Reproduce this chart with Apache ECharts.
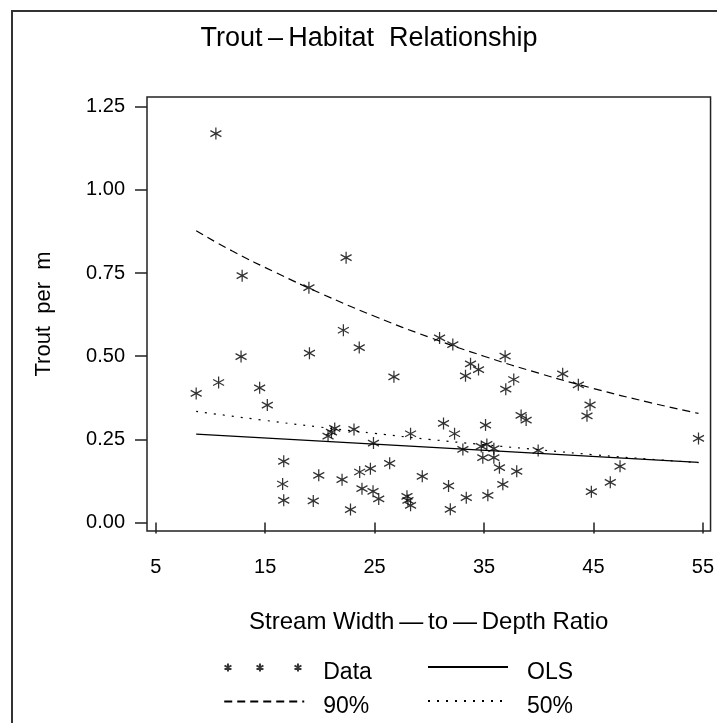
<!DOCTYPE html>
<html>
<head>
<meta charset="utf-8">
<script src="https://cdn.jsdelivr.net/npm/echarts@6/dist/echarts.min.js"></script>
<style>
  html, body { margin: 0; padding: 0; background: #fff; }
  #chart { width: 717px; height: 723px; }
</style>
</head>
<body>
<div id="chart"></div>
<script>
// Observed stream width-to-depth ratios and trout densities (trout per metre)
const widthRatio = [
  8.7, 10.5, 10.75, 12.8, 12.9, 14.5, 15.2, 16.7, 16.6, 16.7,
  19.0, 19.05, 19.9, 19.4, 20.75, 21.06, 21.36, 22.15, 22.4, 22.03,
  22.8, 23.12, 23.6, 23.64, 23.85, 24.62, 24.9, 24.86, 25.38, 26.38,
  26.77, 27.96, 28.05, 28.29, 28.29, 29.36, 30.94, 31.3, 31.76, 31.92,
  32.15, 32.31, 33.07, 33.31, 33.38, 33.77, 34.5, 34.75, 34.89, 35.14,
  35.26, 35.35, 35.9, 35.9, 36.41, 36.72, 36.93, 36.99, 37.72, 37.99,
  38.39, 38.85, 39.95, 42.19, 43.62, 44.41, 44.69, 44.81, 46.54, 47.43,
  54.6
];
const troutPerM = [
  0.388, 1.169, 0.421, 0.499, 0.742, 0.405, 0.353, 0.184, 0.116, 0.067,
  0.706, 0.509, 0.142, 0.065, 0.260, 0.272, 0.283, 0.578, 0.796, 0.129,
  0.039, 0.280, 0.526, 0.152, 0.102, 0.162, 0.239, 0.094, 0.071, 0.178,
  0.438, 0.079, 0.067, 0.052, 0.267, 0.139, 0.555, 0.298, 0.110, 0.040,
  0.535, 0.267, 0.220, 0.441, 0.075, 0.477, 0.460, 0.229, 0.195, 0.293,
  0.235, 0.082, 0.222, 0.195, 0.165, 0.115, 0.500, 0.401, 0.430, 0.154,
  0.322, 0.308, 0.217, 0.447, 0.414, 0.321, 0.354, 0.093, 0.121, 0.169,
  0.253
];

// Fitted curves: ordinary least squares, 90th and 50th quantile regressions
const olsX = [8.7, 25, 40, 54.6];
const olsY = [0.266, 0.236, 0.208, 0.181];
const q90X = [8.7, 12, 16, 20, 25, 30, 35, 40, 45, 50, 54.6];
const q90Y = [0.877, 0.816, 0.751, 0.690, 0.620, 0.557, 0.500, 0.449, 0.403, 0.362, 0.328];
const q50X = [8.7, 15, 20, 25, 30, 35, 40, 45, 50, 54.6];
const q50Y = [0.334, 0.307, 0.287, 0.268, 0.250, 0.234, 0.219, 0.204, 0.191, 0.180];

// Axis ticks
const xTicks = [5, 15, 25, 35, 45, 55];
const yTicks = [0, 0.25, 0.5, 0.75, 1.0, 1.25];

const zip = (xs, ys) => xs.map((x, i) => [x, ys[i]]);

const FONT = '"Liberation Sans", Arial, Helvetica, sans-serif';
const INK = '#000';

// Six-armed star marker drawn as strokes
const starPath = 'path://M5,0L5,10M0.67,2.5L9.33,7.5M0.67,7.5L9.33,2.5';
// Three stars in a row for the legend key
const starsKey = 'path://' + [4, 36, 74].map(c =>
  `M${c},0L${c},8M${c - 3.46},2L${c + 3.46},6M${c - 3.46},6L${c + 3.46},2`).join('') +
  'M80,4L80,4.01';

const chart = echarts.init(document.getElementById('chart'), null, { renderer: 'canvas' });

// Legend labels sit a little below their keys
const legendText = {
  fontFamily: FONT, fontSize: 23, color: INK,
  rich: { t: { fontFamily: FONT, fontSize: 23, color: INK, padding: [11, 0, 0, 14] } }
};
const hideDot = { opacity: 0 };

chart.setOption({
  animation: false,
  backgroundColor: '#fff',
  textStyle: { fontFamily: FONT },
  title: {
    text: 'Trout\u2009\u2013\u2009Habitat  Relationship',
    left: 364, top: 20, textAlign: 'center',
    textStyle: { fontFamily: FONT, fontSize: 27, fontWeight: 'normal', color: INK }
  },
  graphic: [{
    type: 'polyline',
    shape: { points: [[12, 723], [12, 11], [717, 11]] },
    style: { stroke: '#333', lineWidth: 2, fill: null },
    silent: true
  }],
  grid: {
    left: 147, top: 97, width: 564, height: 434,
    show: true, borderColor: '#222', borderWidth: 1.5, backgroundColor: 'transparent'
  },
  legend: [{
    orient: 'vertical', left: 222, top: 661, padding: 0,
    itemWidth: 80, itemHeight: 8, itemGap: 11,
    formatter: '{t|{name}}',
    data: [{ name: 'Data', icon: starsKey }, { name: '90%', itemStyle: hideDot }],
    textStyle: legendText
  }, {
    orient: 'vertical', left: 427, top: 661, padding: 0,
    itemWidth: 80, itemHeight: 8, itemGap: 11,
    formatter: '{t|{name}}',
    data: [{ name: 'OLS', itemStyle: hideDot }, { name: '50%', itemStyle: hideDot }],
    textStyle: legendText
  }],
  xAxis: {
    type: 'value', min: 4.206, max: 55.70,
    name: 'Stream Width\u2009\u2014\u2009to\u2009\u2014\u2009Depth Ratio',
    nameLocation: 'middle', nameGap: 79,
    nameTextStyle: { fontFamily: FONT, fontSize: 24, color: INK },
    axisLine: { show: false },
    splitLine: { show: false },
    axisTick: { show: true, length: 11, inside: false, customValues: xTicks,
                lineStyle: { color: '#222', width: 1.5 } },
    axisLabel: { customValues: xTicks, margin: 26, fontSize: 20, color: INK, fontFamily: FONT }
  },
  yAxis: {
    type: 'value', min: -0.0253, max: 1.279,
    name: 'Trout  per  m',
    nameLocation: 'middle', nameGap: 92,
    nameTextStyle: { fontFamily: FONT, fontSize: 22, color: INK },
    axisLine: { show: false },
    splitLine: { show: false },
    axisTick: { show: true, length: 12, inside: false, customValues: yTicks,
                lineStyle: { color: '#222', width: 1.5 } },
    axisLabel: { customValues: yTicks, margin: 22, fontSize: 20, color: INK, fontFamily: FONT,
                 formatter: v => v.toFixed(2) }
  },
  series: [{
    name: 'Data', type: 'scatter',
    data: zip(widthRatio, troutPerM),
    symbol: starPath, symbolSize: [11, 12],
    itemStyle: { color: 'none', borderColor: INK, borderWidth: 1.3 },
    z: 5
  }, {
    name: 'OLS', type: 'line',
    data: zip(olsX, olsY),
    symbol: 'none', smooth: false,
    itemStyle: { color: INK },
    lineStyle: { color: INK, width: 1.2, type: 'solid' }
  }, {
    name: '90%', type: 'line',
    data: zip(q90X, q90Y),
    symbol: 'none', smooth: true,
    itemStyle: { color: INK },
    lineStyle: { color: INK, width: 1.2, type: [8, 5] }
  }, {
    name: '50%', type: 'line',
    data: zip(q50X, q50Y),
    symbol: 'none', smooth: true,
    itemStyle: { color: INK },
    lineStyle: { color: INK, width: 1.2, type: [2, 7] }
  }]
});
</script>
</body>
</html>
